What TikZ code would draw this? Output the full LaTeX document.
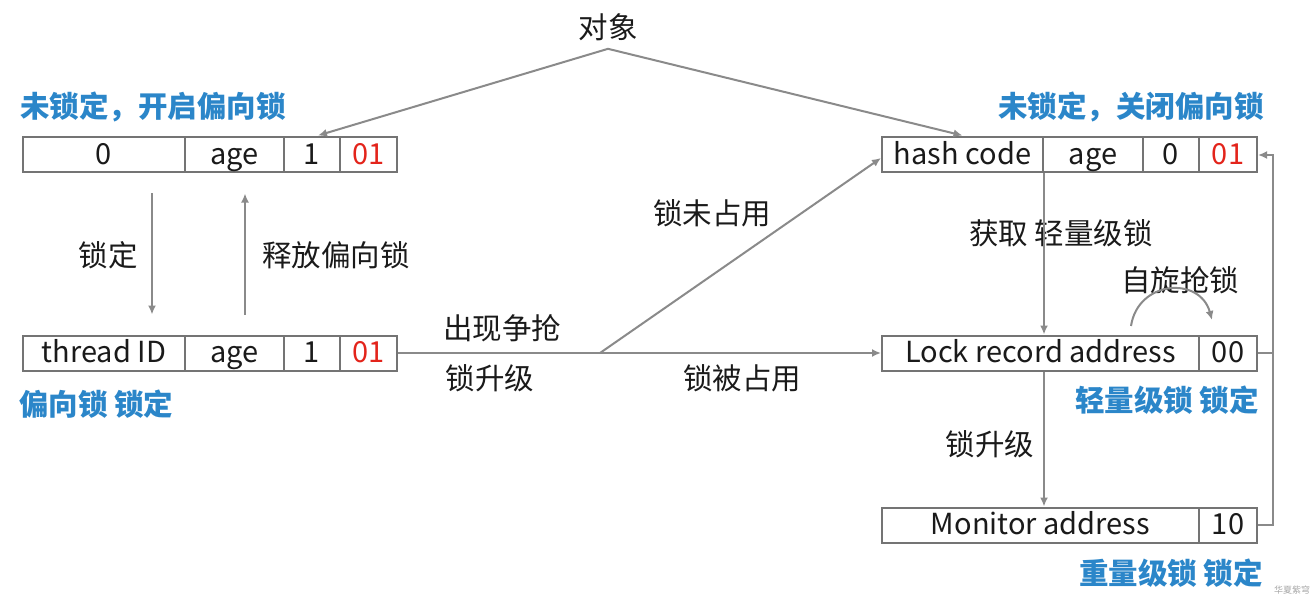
\documentclass[tikz,border=0pt]{standalone}
\usepackage{fontspec}
\setmainfont{Noto Sans CJK SC}
\usetikzlibrary{arrows.meta,calc}
\definecolor{lineg}{HTML}{8A8A8A}
\definecolor{boxg}{HTML}{747474}
\definecolor{lblue}{HTML}{2B86C9}
\definecolor{lred}{HTML}{E3241B}
\definecolor{txt}{HTML}{1A1A1A}
\tikzset{
  cell/.style={draw=boxg, line width=2pt, minimum height=35pt, inner sep=0pt, text height=23pt, text depth=4pt, text=txt, font=\fontsize{29}{32}\selectfont},
  redcell/.style={cell, text=lred},
  conn/.style={draw=lineg, line width=2pt},
  arr/.style={conn, -{Latex[length=9pt,width=8pt]}},
  lbl/.style={inner sep=0pt, text=txt, font=\fontsize{29.5}{32}\selectfont},
  bluelbl/.style={inner sep=0pt, text=lblue, font=\fontsize{29.5}{32}\selectfont\bfseries},
  wm/.style={inner sep=0pt, text=gray!70, font=\fontsize{9}{10}\selectfont}
}
\begin{document}
\begin{tikzpicture}[x=1pt,y=-1pt]
\useasboundingbox (0,0) rectangle (1316,604);
% top-left box
\node[cell, minimum width=162pt] (tl1) at (104,155) {0};
\node[cell, minimum width=99pt] (tl2) at (234.5,155) {age};
\node[cell, minimum width=56pt] (tl3) at (312,155) {1};
\node[redcell, minimum width=57pt] (tl4) at (368.5,155) {01};
% bottom-left box
\node[cell, minimum width=162pt] (bl1) at (104,353) {thread ID};
\node[cell, minimum width=99pt] (bl2) at (234.5,353) {age};
\node[cell, minimum width=56pt] (bl3) at (312,353) {1};
\node[redcell, minimum width=57pt] (bl4) at (368.5,353) {01};
% top-right box
\node[cell, minimum width=161pt] (tr1) at (962.5,155) {hash code};
\node[cell, minimum width=100pt] (tr2) at (1093,155) {age};
\node[cell, minimum width=56pt] (tr3) at (1171,155) {0};
\node[redcell, minimum width=58pt] (tr4) at (1228,155) {01};
% lock record box
\node[cell, minimum width=317pt] (lk1) at (1040.5,353) {Lock record address};
\node[cell, minimum width=58pt] (lk2) at (1228,353) {00};
% monitor box
\node[cell, minimum width=317pt] (mo1) at (1040.5,525) {Monitor address};
\node[cell, minimum width=58pt] (mo2) at (1228,525) {10};
% labels
\node[lbl] (obj) at (608,27) {对象};
\node[bluelbl, anchor=west] (l1) at (20,107) {未锁定，开启偏向锁};
\node[bluelbl, anchor=east] (l2) at (1264,107) {未锁定，关闭偏向锁};
\node[bluelbl, anchor=west] (l3) at (19,404) {偏向锁 锁定};
\node[bluelbl, anchor=east] (l4) at (1259,400) {轻量级锁 锁定};
\node[bluelbl, anchor=east] (l5) at (1263,573) {重量级锁 锁定};
\node[lbl] (t1) at (108,255) {锁定};
\node[lbl] (t2) at (336,255) {释放偏向锁};
\node[lbl] (t3) at (502,328) {出现争抢};
\node[lbl] (t4) at (490,378) {锁升级};
\node[lbl] (t5) at (742,378) {锁被占用};
\node[lbl] (t6) at (712,213) {锁未占用};
\node[lbl] (t7) at (1061,233) {获取 轻量级锁};
\node[lbl] (t8) at (1180,280) {自旋抢锁};
\node[lbl] (t9) at (990,444) {锁升级};
\node[wm] (wmk) at (1292,590) {华夏紫穹};
% connectors
\draw[arr] ($(obj.south)+(0,8)$) -- ($(tl3.north)+(6,-1)$);
\draw[arr] ($(obj.south)+(0,8)$) -- ($(tr1.north)+(0,-1)$);
\draw[arr] ($(tl1.south)+(48,20)$) -- ($(bl1.north)+(48,-20)$);
\draw[arr] ($(bl2.north)+(10.5,-20)$) -- ($(tl2.south)+(10.5,20)$);
\coordinate (fork) at (600,353);
\draw[arr] (bl4.east) -- (lk1.west);
\draw[arr] (fork) -- ($(tr1.west)+(0,3)$);
\draw[arr] (tr1.south east) -- (lk1.north -| tr1.south east);
\draw[arr] (lk1.south -| tr1.south east) -- (mo1.north -| tr1.south east);
\coordinate (rx) at (1273,353);
\draw[conn] (lk2.east) -- (rx);
\draw[arr] (mo2.east) -| (rx) |- (tr4.east);
\coordinate (s1) at (1131,326);
\coordinate (s2) at (1212,320);
\draw[arr] (s1) .. controls (1138,280) and (1200,276) .. (s2);
\end{tikzpicture}
\end{document}
